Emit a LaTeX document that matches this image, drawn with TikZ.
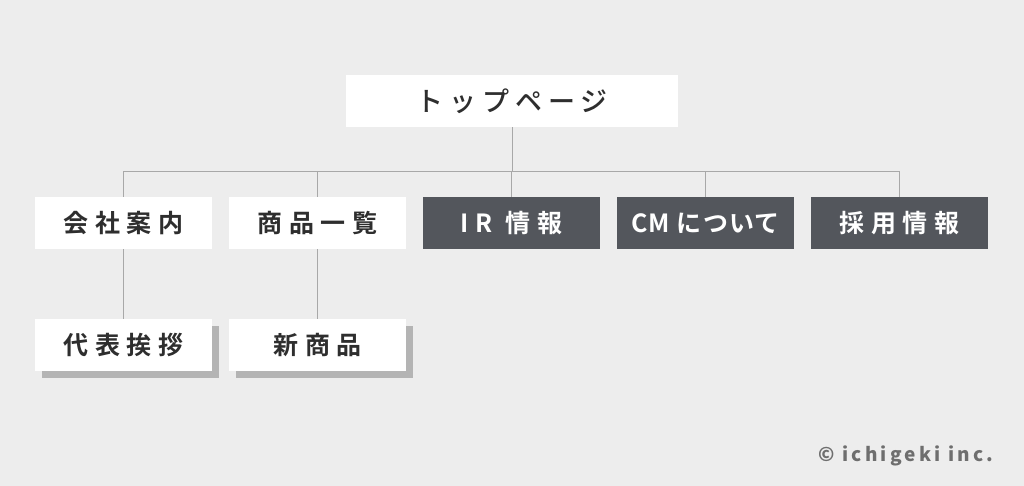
\documentclass[tikz,border=0pt]{standalone}
\usepackage{fontspec}
\usetikzlibrary{shadows}
\newfontfamily\jpb[LetterSpace=27]{Noto Sans CJK JP Bold}
\newfontfamily\jpbt[LetterSpace=5]{Noto Sans CJK JP Bold}
\newfontfamily\jpm[LetterSpace=22]{Noto Sans CJK JP Medium}
\newfontfamily\cpy[LetterSpace=17]{Noto Sans CJK JP Black}
\definecolor{bg}{HTML}{EDEDED}
\definecolor{darkbox}{HTML}{53565C}
\definecolor{txt}{HTML}{2E2E2E}
\definecolor{linegray}{HTML}{A8A8A8}
\definecolor{shadowgray}{HTML}{B4B4B4}
\definecolor{cpygray}{HTML}{6E6E6E}
\tikzset{
  lightbox/.style={fill=white, draw=none, minimum width=177pt, minimum height=52pt, inner sep=0pt, text=txt, font=\jpb\fontsize{25pt}{28pt}\selectfont},
  darkbx/.style={fill=darkbox, draw=none, minimum width=177pt, minimum height=52pt, inner sep=0pt, text=white, font=\jpb\fontsize{25pt}{28pt}\selectfont},
  topbox/.style={fill=white, draw=none, minimum width=332pt, minimum height=52pt, inner sep=0pt, text=txt, font=\jpm\fontsize{27pt}{30pt}\selectfont},
  shadowed/.style={copy shadow={shadow xshift=7pt, shadow yshift=-7pt, fill=shadowgray, draw=none}},
  conn/.style={draw=linegray, line width=0.8pt}
}
\begin{document}
\begin{tikzpicture}[x=1pt,y=1pt]
\fill[bg] (0,0) rectangle (1024,486);
\useasboundingbox (0,0) rectangle (1024,486);
\node[topbox] (top) at (512,385) {トップページ\hspace{-0.22em}};
\node[lightbox] (a) at (123.5,263) {会社案内\hspace{-0.27em}};
\node[lightbox] (b) at (317.5,263) {商品一覧\hspace{-0.27em}};
\node[darkbx] (c) at (511.5,263) {IR 情報\hspace{-0.27em}};
\node[darkbx, font=\jpbt\fontsize{25pt}{28pt}\selectfont] (d) at (705.5,263) {CM について\hspace{-0.05em}};
\node[darkbx] (e) at (899.5,263) {採用情報\hspace{-0.27em}};
\node[lightbox, shadowed] (f) at (123.5,141) {代表挨拶\hspace{-0.27em}};
\node[lightbox, shadowed] (g) at (317.5,141) {新商品\hspace{-0.27em}};
\coordinate (bus) at (0,315);
\draw[conn] (top.south) -- (top.south |- bus);
\draw[conn] (a.north) -- (a.north |- bus) -- (e.north |- bus) -- (e.north);
\draw[conn] (b.north) -- (b.north |- bus);
\draw[conn] (c.north) -- (c.north |- bus);
\draw[conn] (d.north) -- (d.north |- bus);
\draw[conn] (a.south) -- (f.north);
\draw[conn] (b.south) -- (g.north);
\node[text=cpygray, font=\cpy\fontsize{19pt}{22pt}\selectfont, inner sep=0pt] (cp) at (906,30) {© ichigeki inc.\hspace{-0.17em}};
\end{tikzpicture}
\end{document}
